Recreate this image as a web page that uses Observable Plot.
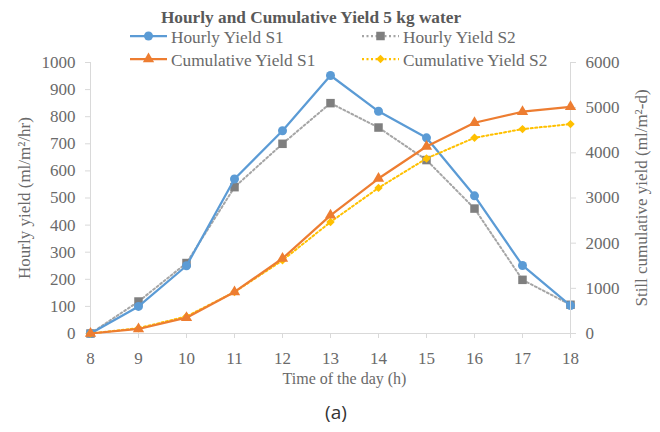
<!DOCTYPE html>
<html><head><meta charset="utf-8">
<script src="https://cdn.jsdelivr.net/npm/d3@7"></script>
<script src="https://cdn.jsdelivr.net/npm/@observablehq/plot@0.6"></script>
<style>
body{margin:0;background:#fff;}
#wrap{position:relative;width:660px;height:432px;overflow:hidden;}
#wrap > svg{position:absolute;left:0;top:0;}
#wrap svg text{font-family:'Liberation Serif','Times New Roman',serif;}
#wrap svg text.cap{font-family:'Open Sans','Noto Sans',sans-serif;}
</style></head>
<body><div id="wrap"></div>
<script>
const hours = [8, 9, 10, 11, 12, 13, 14, 15, 16, 17, 18];
const hourlyS1 = [0, 100, 250, 570, 748, 952, 820, 722, 508, 251, 103];
const hourlyS2 = [0, 118, 260, 540, 700, 850, 760, 640, 461, 198, 106];
const cumulativeS1 = [0, 100, 350, 920, 1660, 2617, 3431, 4140, 4666, 4910, 5020];
const cumulativeS2 = [0, 118, 378, 918, 1620, 2469, 3224, 3875, 4333, 4525, 4636];
const leftTicks = [0, 100, 200, 300, 400, 500, 600, 700, 800, 900, 1000];
const rightTicks = [0, 1000, 2000, 3000, 4000, 5000, 6000];
const seriesNames = ["Hourly Yield S1", "Hourly Yield S2", "Cumulative Yield S1", "Cumulative Yield S2"];
const titleText = "Hourly and Cumulative Yield 5 kg water";
const xLabel = "Time of the day (h)";
const yLeftLabel = "Hourly yield (ml/m²/hr)";
const yRightLabel = "Still cumulative yield (ml/m²-d)";
const captionText = "(a)";

const rows = hours.map((h, i) => ({hour: h, hs1: hourlyS1[i], hs2: hourlyS2[i], cs1: cumulativeS1[i], cs2: cumulativeS2[i]}));

const C = {blue: "#5B9BD5", gray: "#A5A5A5", grayMk: "#7F7F7F", orange: "#ED7D31", yellow: "#FFC000", axis: "#D9D9D9", text: "#6A6A6A", title: "#595959"};
const serif = "'Liberation Serif', 'Times New Roman', serif";

const common = {
  width: 660, height: 390,
  marginLeft: 90, marginRight: 90, marginTop: 62, marginBottom: 57,
  style: {fontFamily: serif, fontSize: "17px", color: C.text, background: "transparent", overflow: "visible"}
};
const axisText = {fontFamily: serif, fontSize: 17, fontVariant: "normal"};

const p1 = Plot.plot({
  ...common,
  x: {domain: [8, 18]},
  y: {domain: [0, 1000]},
  marks: [
    Plot.ruleY([0], {stroke: C.axis}),
    Plot.ruleX([8], {stroke: C.axis}),
    Plot.axisX({...axisText, ticks: hours, tickSize: 5, tickPadding: 13, tickFormat: d => String(d), stroke: C.axis, fill: C.text, label: null}),
    Plot.axisY({...axisText, anchor: "left", ticks: leftTicks, tickSize: 5, tickPadding: 10, tickFormat: d => String(d), stroke: C.axis, fill: C.text,
      label: yLeftLabel, labelAnchor: "center", labelOffset: 73, labelArrow: "none"}),
    Plot.text([xLabel], {frameAnchor: "bottom", dx: 14, dy: 45, lineAnchor: "middle", fill: C.text, fontSize: 16, fontFamily: serif}),
    Plot.line(rows, {x: "hour", y: "hs2", stroke: C.gray, strokeWidth: 2, strokeDasharray: "2 2.5"}),
    Plot.dot(rows, {x: "hour", y: "hs2", symbol: "square", r: 4.8, fill: C.grayMk}),
    Plot.line(rows, {x: "hour", y: "hs1", stroke: C.blue, strokeWidth: 2.25}),
    Plot.dot(rows, {x: "hour", y: "hs1", symbol: "circle", r: 4.5, fill: C.blue})
  ]
});

const p2 = Plot.plot({
  ...common,
  x: {domain: [8, 18], axis: null},
  y: {domain: [0, 6000]},
  marks: [
    Plot.ruleX([18], {stroke: C.axis}),
    Plot.axisY({...axisText, anchor: "right", ticks: rightTicks, tickSize: 5, tickPadding: 10, tickFormat: d => String(d), stroke: C.axis, fill: C.text,
      label: yRightLabel, labelAnchor: "center", labelOffset: 76, labelArrow: "none"}),
    Plot.line(rows, {x: "hour", y: "cs2", stroke: C.yellow, strokeWidth: 2, strokeDasharray: "2 2.5"}),
    Plot.dot(rows, {x: "hour", y: "cs2", symbol: "diamond2", r: 3.8, fill: C.yellow}),
    Plot.line(rows, {x: "hour", y: "cs1", stroke: C.orange, strokeWidth: 2.25}),
    Plot.dot(rows, {x: "hour", y: "cs1", symbol: "triangle", r: 4.2, fill: C.orange})
  ]
});

const wrap = document.getElementById("wrap");
wrap.appendChild(p1);
wrap.appendChild(p2);

// Title, legend and caption overlay
const ov = d3.select(wrap).append("svg").attr("width", 660).attr("height", 432).style("pointer-events", "none");
ov.append("text").attr("x", 311).attr("y", 23).attr("text-anchor", "middle")
  .attr("font-weight", "bold").attr("font-size", 17.3).attr("fill", C.title).text(titleText);

const legendItems = [
  {name: seriesNames[0], color: C.blue, mk: C.blue, dash: null, sym: d3.symbolCircle, r: 4.5, x0: 130, x1: 167, tx: 171, y: 36},
  {name: seriesNames[1], color: C.gray, mk: C.grayMk, dash: "2 2.5", sym: d3.symbolSquare, r: 4.8, x0: 362, x1: 399, tx: 403, y: 36},
  {name: seriesNames[2], color: C.orange, mk: C.orange, dash: null, sym: d3.symbolTriangle, r: 4.2, x0: 130, x1: 167, tx: 171, y: 59},
  {name: seriesNames[3], color: C.yellow, mk: C.yellow, dash: "2 2.5", sym: d3.symbolDiamond2, r: 3.8, x0: 362, x1: 399, tx: 403, y: 59}
];
for (const it of legendItems) {
  ov.append("line").attr("x1", it.x0).attr("x2", it.x1).attr("y1", it.y).attr("y2", it.y)
    .attr("stroke", it.color).attr("stroke-width", 2.25).attr("stroke-dasharray", it.dash);
  ov.append("path").attr("transform", `translate(${(it.x0 + it.x1) / 2},${it.y})`)
    .attr("d", d3.symbol(it.sym, Math.PI * it.r * it.r)()).attr("fill", it.mk);
  ov.append("text").attr("x", it.tx).attr("y", it.y + 6.5).attr("font-size", 17.3)
    .attr("fill", C.text).text(it.name);
}
ov.append("text").attr("class", "cap").attr("x", 336).attr("y", 419).attr("text-anchor", "middle")
  .attr("font-size", 19).attr("fill", "#333").text(captionText);
</script>
</body></html>
